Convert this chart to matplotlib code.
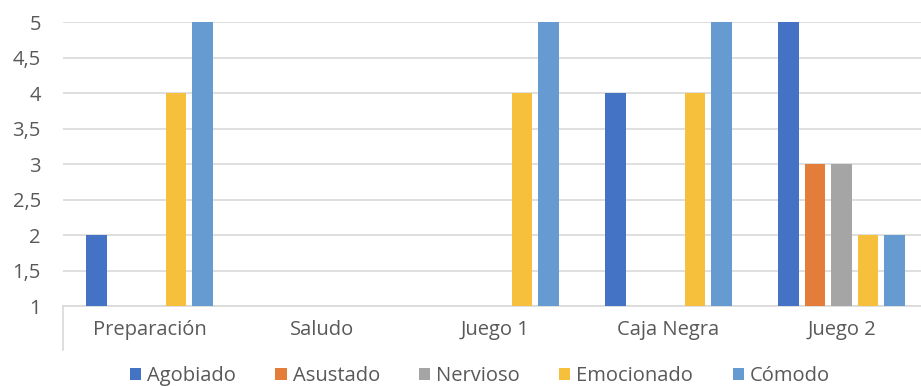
import matplotlib
matplotlib.use("Agg")
import matplotlib.pyplot as plt
from matplotlib.ticker import FuncFormatter, MultipleLocator
from matplotlib.lines import Line2D
import numpy as np

plt.rcParams['font.family'] = ['Open Sans', 'DejaVu Sans']

categories = ["Preparación", "Saludo", "Juego 1", "Caja Negra", "Juego 2"]
series_names = ["Agobiado", "Asustado", "Nervioso", "Emocionado", "Cómodo"]
agobiado = [2, 0, 0, 4, 5]
asustado = [0, 0, 0, 0, 3]
nervioso = [0, 0, 0, 0, 3]
emocionado = [4, 0, 4, 4, 2]
comodo = [5, 0, 5, 5, 2]
colors = ["#4472C4", "#E47D3A", "#A5A5A5", "#F6BF3C", "#669BD2"]

values = [agobiado, asustado, nervioso, emocionado, comodo]

fig = plt.figure(figsize=(9.21, 3.86), dpi=100)
ax = fig.add_axes([63 / 921, 1 - 306 / 386, 865 / 921, 284 / 386])

x = np.arange(len(categories))
step = 0.153
width = 0.121
for i, (name, vals, col) in enumerate(zip(series_names, values, colors)):
    ax.bar(x + (i - 2) * step, vals, width=width, bottom=0, color=col,
           label=name, zorder=3)

ax.set_xlim(-0.5, len(categories) - 0.5)
ax.set_ylim(1, 5)
ax.yaxis.set_major_locator(MultipleLocator(0.5))
ax.yaxis.set_major_formatter(
    FuncFormatter(lambda v, p: (f"{v:g}").replace(".", ",")))
ax.grid(axis="y", color="#D9D9D9", linewidth=1.2, zorder=0)
for s in ["top", "right", "left"]:
    ax.spines[s].set_visible(False)
ax.spines["bottom"].set_color("#D9D9D9")
ax.spines["bottom"].set_linewidth(1.2)
ax.set_xticks(x)
ax.set_xticklabels(categories)
ax.tick_params(axis="both", length=0, labelsize=14.5, colors="#595959")
ax.tick_params(axis="x", pad=10)
ax.tick_params(axis="y", pad=16)

# left boundary of the category axis, drawn below the plot area
ax.add_line(Line2D([0, 0], [0, -44 / 284], transform=ax.transAxes,
                   color="#D9D9D9", linewidth=1.2, clip_on=False))

leg = fig.legend(loc="center", bbox_to_anchor=(480 / 921, 1 - 376 / 386),
                 ncol=5, frameon=False, fontsize=14.5, handlelength=0.55,
                 handleheight=0.55, handletextpad=0.3, columnspacing=1.95)
for t in leg.get_texts():
    t.set_color("#595959")

fig.savefig("out.png", dpi=100)
